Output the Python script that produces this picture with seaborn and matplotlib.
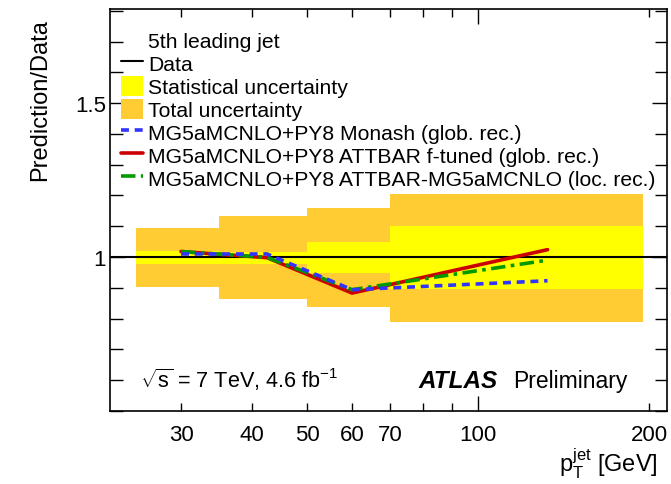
import matplotlib
matplotlib.use("Agg")
import matplotlib.pyplot as plt
import seaborn as sns
import pandas as pd
from matplotlib.lines import Line2D
from matplotlib.patches import Patch
from matplotlib.ticker import FixedLocator, FixedFormatter, MultipleLocator

# ---- data ----
bin_lo = [25, 35, 50, 70]
bin_hi = [35, 50, 70, 195]
tot_up = [1.094, 1.133, 1.159, 1.205]
tot_dn = [0.903, 0.864, 0.838, 0.789]
stat_up = [1.020, 1.017, 1.049, 1.100]
stat_dn = [0.977, 0.977, 0.948, 0.896]

pt = [30, 42.5, 60, 132.5]
monash = [1.010, 1.010, 0.894, 0.923]
ftuned = [1.018, 0.998, 0.883, 1.024]
locrec = [1.018, 0.999, 0.894, 0.990]

xtick_major = [100]
xtick_minor = [30, 40, 50, 60, 70, 80, 90, 200]
xtick_minor_labels = ["30", "40", "50", "60", "70", "", "", "200"]
ytick_vals = [1.0, 1.5]
ytick_labels = ["1", "1.5"]

labels = ["5th leading jet", "Data", "Statistical uncertainty", "Total uncertainty",
          "MG5aMCNLO+PY8 Monash (glob. rec.)",
          "MG5aMCNLO+PY8 ATTBAR f-tuned (glob. rec.)",
          "MG5aMCNLO+PY8 ATTBAR-MG5aMCNLO (loc. rec.)"]

c_orange = "#FFCC33"
c_yellow = "#FFFF00"
c_blue = "#3333FF"
c_red = "#CC0000"
c_green = "#009900"

sns.set_theme(style="ticks")
plt.rcParams["font.family"] = ["Liberation Sans", "DejaVu Sans"]
plt.rcParams["mathtext.fontset"] = "custom"
plt.rcParams["mathtext.rm"] = "Liberation Sans"
plt.rcParams["mathtext.it"] = "Liberation Sans:italic"
plt.rcParams["mathtext.bf"] = "Liberation Sans:bold"
plt.rcParams["text.color"] = "black"
plt.rcParams["axes.labelcolor"] = "black"
plt.rcParams["xtick.color"] = "black"
plt.rcParams["ytick.color"] = "black"

fig = plt.figure(figsize=(6.71, 4.85), dpi=100)
ax = fig.add_axes([0.164, 0.1505, 0.830, 0.8285])

widths = [h - l for l, h in zip(bin_lo, bin_hi)]
ax.bar(bin_lo, [u - d for u, d in zip(tot_up, tot_dn)], bottom=tot_dn, width=widths,
       align="edge", color=c_orange, linewidth=0, zorder=1)
ax.bar(bin_lo, [u - d for u, d in zip(stat_up, stat_dn)], bottom=stat_dn, width=widths,
       align="edge", color=c_yellow, linewidth=0, zorder=2)
ax.axhline(1.0, color="black", lw=1.5, zorder=3)

ls_green = (0, (4, 1.5, 1, 1.5))
ls_blue = (0, (2.2, 1.6))
df = pd.DataFrame({"pt": pt, "monash": monash, "ftuned": ftuned, "loc": locrec})
sns.lineplot(data=df, x="pt", y="ftuned", ax=ax, color=c_red, lw=2.6, zorder=4)
sns.lineplot(data=df, x="pt", y="loc", ax=ax, color=c_green, lw=2.6, zorder=5,
             linestyle=ls_green)
sns.lineplot(data=df, x="pt", y="monash", ax=ax, color=c_blue, lw=2.6, zorder=6,
             linestyle=ls_blue)

ax.set_xscale("log")
ax.set_xlim(22.5, 215)
ax.set_ylim(0.5, 1.805)

ax.xaxis.set_major_locator(FixedLocator(xtick_major))
ax.xaxis.set_major_formatter(FixedFormatter([str(v) for v in xtick_major]))
ax.xaxis.set_minor_locator(FixedLocator(xtick_minor))
ax.xaxis.set_minor_formatter(FixedFormatter(xtick_minor_labels))
ax.yaxis.set_major_locator(FixedLocator(ytick_vals))
ax.yaxis.set_major_formatter(FixedFormatter(ytick_labels))
ax.yaxis.set_minor_locator(MultipleLocator(0.1))

ax.tick_params(which="both", direction="in", top=True, right=True, labelsize=16, colors="black")
ax.tick_params(axis="x", which="major", length=11, width=1, pad=9)
ax.tick_params(axis="x", which="minor", length=5.5, width=1, pad=9)
ax.tick_params(axis="y", which="major", length=11, width=1, pad=3)
ax.tick_params(axis="y", which="minor", length=9, width=1)
for s in ax.spines.values():
    s.set_color("black")
    s.set_linewidth(1.2)

ax.set_xlabel("")
ax.set_ylabel("")
fig.text(658 / 671, 1 - 472 / 485, r"p$_{\mathrm{T}}^{\mathrm{jet}}$ [GeV]", fontsize=17,
         ha="right", va="baseline")
fig.text(40 / 671, 1 - 19 / 485, "Prediction/Data", fontsize=17, rotation=90,
         ha="center", va="top")

handles = [Line2D([], [], color="none"),
           Line2D([], [], color="black", lw=1.5),
           Patch(facecolor=c_yellow, edgecolor="none"),
           Patch(facecolor=c_orange, edgecolor="none"),
           Line2D([], [], color=c_blue, lw=2.6, linestyle=ls_blue),
           Line2D([], [], color=c_red, lw=2.6),
           Line2D([], [], color=c_green, lw=2.6, linestyle=ls_green)]
ax.legend(handles, labels, loc="upper left", bbox_to_anchor=(-0.007, 0.986),
          frameon=False, fontsize=15.2, labelspacing=0.08, handlelength=1.05,
          handletextpad=0.25, borderaxespad=0.3, handleheight=1.1)

ax.text(0.054, 0.06, r"$\sqrt{\mathrm{s}}$ = 7 TeV, 4.6 fb$^{-1}$", transform=ax.transAxes,
        fontsize=15.6, ha="left", va="baseline")
ax.text(0.553, 0.06, "ATLAS", transform=ax.transAxes, fontsize=17.5, fontweight="bold",
        fontstyle="italic", ha="left", va="baseline")
ax.text(0.723, 0.06, "Preliminary", transform=ax.transAxes, fontsize=16.5,
        ha="left", va="baseline")

fig.savefig("out.png", dpi=100)
